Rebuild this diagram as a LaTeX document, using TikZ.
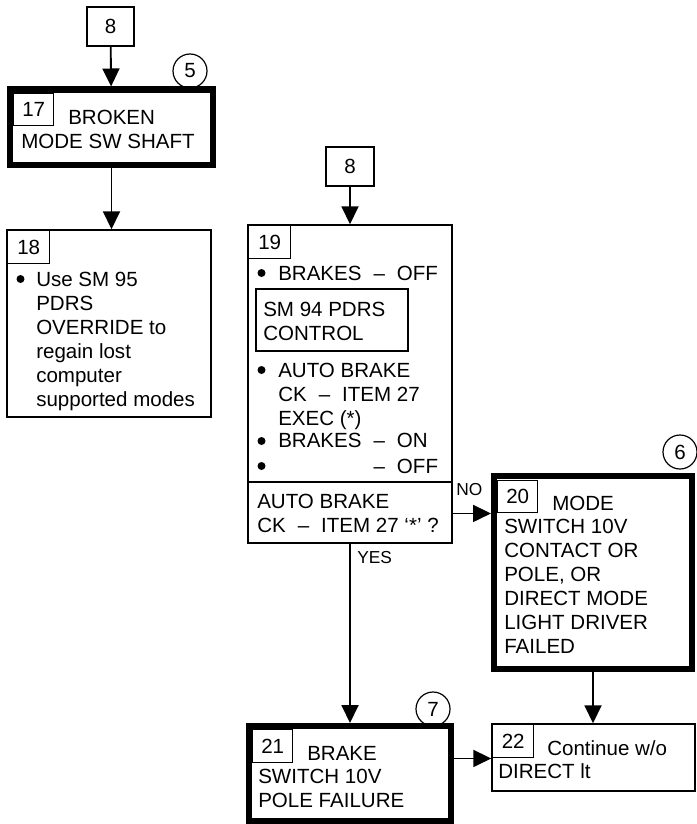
\documentclass[tikz,border=0pt]{standalone}
\usepackage{fontspec}
\setmainfont{Liberation Sans}
\usetikzlibrary{positioning, arrows.meta}

\newcommand{\boxfont}{\fontsize{15.4}{18}\selectfont}
\newcommand{\tagfont}{\fontsize{13}{15}\selectfont}
\newcommand{\dgap}{\hspace{9pt}}

\tikzset{
  box/.style={draw, line width=1.1pt, inner sep=0pt},
  failbox/.style={draw, line width=4.5pt, inner sep=0pt},
  numbox/.style={draw, line width=1.1pt, anchor=north west, inner sep=0pt, font=\boxfont},
  txt/.style={anchor=base west, inner sep=0pt, align=left, font=\boxfont},
  tag/.style={anchor=base west, inner sep=0pt, font=\tagfont},
  dot/.style={circle, fill, inner sep=0pt, minimum size=6pt},
  ring/.style={draw, circle, line width=0.9pt, minimum size=25.5pt, inner sep=0pt, font=\boxfont},
  flow/.style={-{Triangle[length=13.5pt, width=12.75pt]}, line width=1.4pt},
}

\begin{document}
\begin{tikzpicture}[x=0.75pt, y=-0.75pt]
  \useasboundingbox (0,0) rectangle (696,824);

  % Left branch (multi-line texts sit on the baseline of their last line)
  \node[box, minimum width=35.25pt, minimum height=29.25pt, font=\boxfont] (goA) at (110.5,26.5) {8};
  \node[ring] (ringA) at (190,71) {5};
  \node[failbox, fill=white, minimum width=152.25pt, minimum height=56.25pt] (b17) at (111.5,127) {};
  \node[numbox, minimum width=30pt, minimum height=24pt] (n17) at (13,93) {17};
  \node[txt] (t17a) at (68,124) {BROKEN};
  \node[txt] (t17b) at (21,148) {MODE SW SHAFT};

  \node[box, minimum width=153pt, minimum height=140.25pt] (b18) at (109,323.5) {};
  \node[numbox, minimum width=31.5pt, minimum height=24.75pt] (n18) at (7,230) {18};
  \node[dot] (d18) at (20.5,279) {};
  \node[txt] (t18) at (36,406) {Use SM 95\\PDRS\\OVERRIDE to\\regain lost\\computer\\supported modes};

  % Middle branch
  \node[box, minimum width=36pt, minimum height=29.25pt, font=\boxfont] (goB) at (350,166.5) {8};
  \node[box, minimum width=153pt, minimum height=238.5pt] (b19) at (350,384) {};
  \node[numbox, minimum width=31.5pt, minimum height=24.75pt] (n19) at (248,225) {19};
  \node[dot] (d19a) at (261.5,273) {};
  \node[txt] (t19a) at (278,280) {BRAKES\dgap–\dgap OFF};
  \node[box, minimum width=114pt, minimum height=46.5pt] (sm94) at (332,320) {};
  \node[txt] (t94) at (263,340) {SM 94 PDRS\\CONTROL};
  \node[dot] (d19b) at (261.5,370) {};
  \node[txt] (t19b) at (278,425) {AUTO BRAKE\\CK\dgap–\dgap ITEM 27\\EXEC (*)};
  \node[dot] (d19c) at (261.5,441) {};
  \node[dot] (d19d) at (261.5,466) {};
  \node[txt] (t19c) at (278,473) {BRAKES\dgap–\dgap ON\\[1pt]\phantom{BRAKES}\dgap–\dgap OFF};
  \draw[line width=1.1pt] (248,482) -- (452,482);
  \node[txt] (q19) at (257,532) {AUTO BRAKE\\CK\dgap–\dgap ITEM 27 ‘*’ ?};
  \node[tag] (yes) at (357,563) {YES};
  \node[tag] (no) at (456,495) {NO};

  % Right side
  \node[ring] (ringB) at (680,452) {6};
  \node[failbox, fill=white, minimum width=148.5pt, minimum height=144.75pt] (b20) at (593,572.5) {};
  \node[numbox, minimum width=30pt, minimum height=24pt] (n20) at (497,480) {20};
  \node[txt] (t20a) at (552,510) {MODE};
  \node[txt] (t20b) at (504,653) {SWITCH 10V\\CONTACT OR\\POLE, OR\\DIRECT MODE\\LIGHT DRIVER\\FAILED};

  \node[ring] (ringC) at (433,709) {7};
  \node[failbox, fill=white, minimum width=151.5pt, minimum height=71.25pt] (b21) at (350,773.5) {};
  \node[numbox, minimum width=30pt, minimum height=24.75pt] (n21) at (252,729) {21};
  \node[txt] (t21a) at (307,760) {BRAKE};
  \node[txt] (t21b) at (258,807) {SWITCH 10V\\POLE FAILURE};

  \node[box, minimum width=152.25pt, minimum height=50.25pt] (b22) at (593.5,757.5) {};
  \node[numbox, minimum width=30.75pt, minimum height=24.75pt] (n22) at (492,724) {22};
  \node[txt] (t22a) at (547,755) {Continue w/o};
  \node[txt] (t22b) at (498,778) {DIRECT lt};

  % Arrows
  \draw[flow] (goA) -- (b17);
  \draw[flow] (b17.south) -- (b17.south |- b18.north);
  \draw[flow] (goB) -- (b19);
  \draw[flow] (b19.east |- n20.south) -- (b20.west |- n20.south);
  \draw[flow] (b19.south) -- (b21.north);
  \draw[flow] (b20.south) -- (b20.south |- b22.north);
  \draw[flow] (b21.east |- n22.south) -- (b22.west |- n22.south);
\end{tikzpicture}
\end{document}
